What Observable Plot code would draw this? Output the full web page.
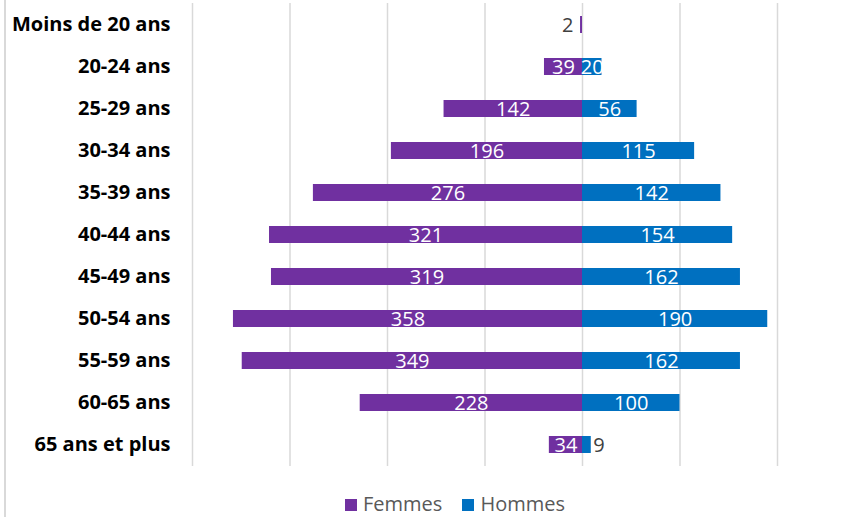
<!DOCTYPE html>
<html><head><meta charset="utf-8">
<script src="https://cdn.jsdelivr.net/npm/d3@7"></script>
<script src="https://cdn.jsdelivr.net/npm/@observablehq/plot@0.6"></script>
<style>
body{margin:0;background:#fff;font-family:"Open Sans",sans-serif;}
#wrap{position:relative;width:866px;height:517px;}
#border{position:absolute;left:4px;top:0;width:1.5px;height:517px;background:#d9d9d9;}
#legend{position:absolute;top:490px;left:0;width:866px;text-align:center;font-size:20px;line-height:28px;color:#595959;padding-left:44px;box-sizing:border-box;}
#legend span.sw{display:inline-block;width:12px;height:12px;margin-right:6px;vertical-align:0px;}
#legend span.it{margin:0 10px;}
</style></head>
<body><div id="wrap"><div id="border"></div><div id="chart"></div>
<div id="legend"><span class="it"><span class="sw" style="background:#7030A0"></span>Femmes</span><span class="it"><span class="sw" style="background:#0070C0"></span>Hommes</span></div></div>
<script>
const categories = ["Moins de 20 ans","20-24 ans","25-29 ans","30-34 ans","35-39 ans","40-44 ans","45-49 ans","50-54 ans","55-59 ans","60-65 ans","65 ans et plus"];
const femmes = [2,39,142,196,276,321,319,358,349,228,34];
const hommes = [0,20,56,115,142,154,162,190,162,100,9];
const xTicks = [-400,-300,-200,-100,0,100,200];

const rows = [];
categories.forEach((c,i)=>{
  rows.push({cat:c, sexe:"Femmes", v:femmes[i], x:-femmes[i]});
  if (hommes[i] > 0) rows.push({cat:c, sexe:"Hommes", v:hommes[i], x:hommes[i]});
});
const inside = rows.filter(d=>d.v>=15);
const outF = rows.filter(d=>d.v<15 && d.sexe==="Femmes");
const outH = rows.filter(d=>d.v<15 && d.sexe==="Hommes");

const chart = Plot.plot({
  width: 866, height: 480,
  marginLeft: 192, marginRight: 89, marginTop: 3, marginBottom: 14,
  style: {fontFamily: "Open Sans", background: "transparent"},
  x: {domain: [-400, 200], axis: null},
  y: {domain: categories, paddingInner: 0.6, paddingOuter: 0.3, label: null},
  color: {domain: ["Femmes","Hommes"], range: ["#7030A0","#0070C0"]},
  marks: [
    Plot.ruleX(xTicks, {stroke: "#d9d9d9", strokeWidth: 1.5}),
    Plot.barX(rows, {y: "cat", x1: 0, x2: "x", fill: "sexe"}),
    Plot.text(inside, {y: "cat", x: d => d.x/2, text: d => String(d.v), fill: "white", fontSize: 20, dy: 1}),
    Plot.text(outF, {y: "cat", x: "x", text: d => String(d.v), fill: "#404040", fontSize: 20, textAnchor: "end", dx: -7, dy: 1}),
    Plot.text(outH, {y: "cat", x: "x", text: d => String(d.v), fill: "#404040", fontSize: 20, textAnchor: "start", dx: 2, dy: 1}),
    Plot.axisY({tickSize: 0, tickPadding: 22, fontSize: 20, fontWeight: "bold", fill: "#000", label: null})
  ]
});
document.getElementById("chart").appendChild(chart);
</script></body></html>
